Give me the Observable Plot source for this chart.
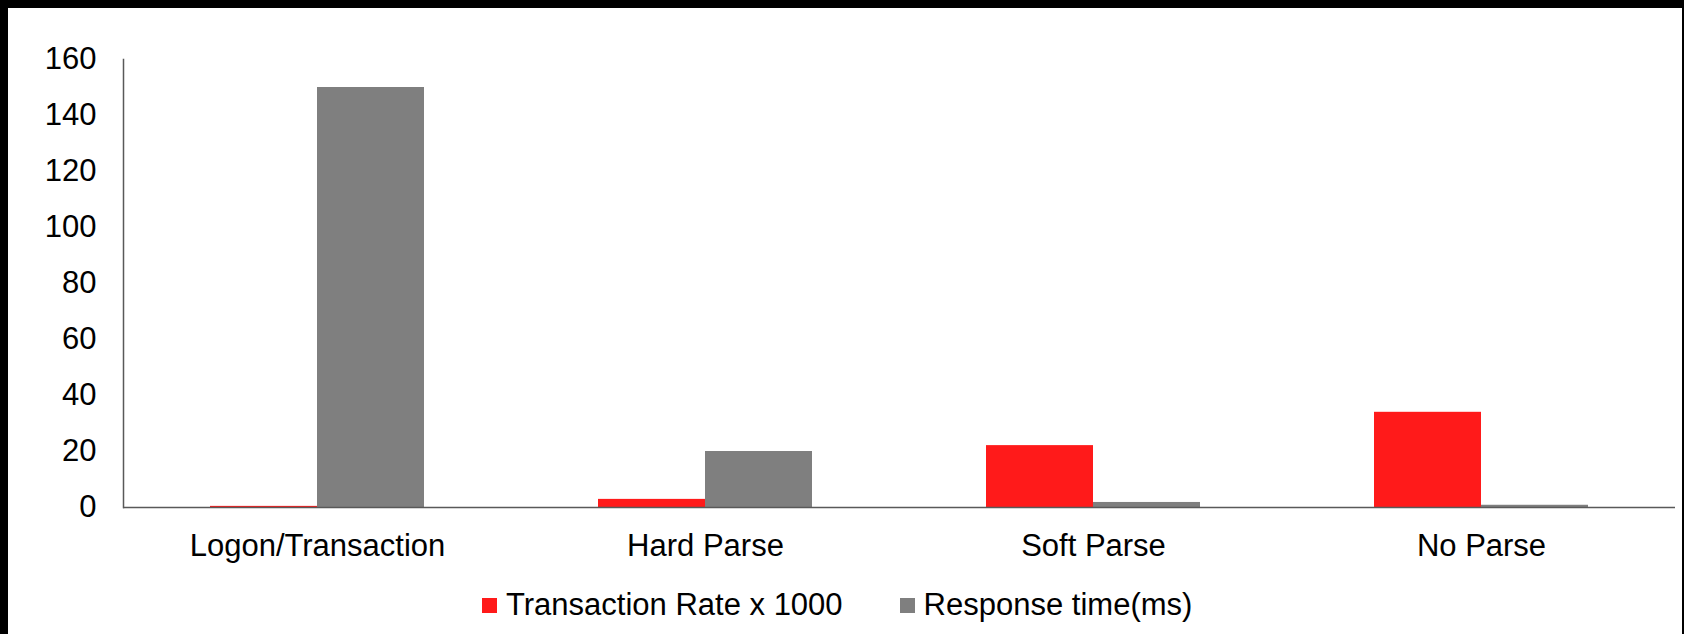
<!DOCTYPE html>
<html>
<head>
<meta charset="utf-8">
<script src="https://cdn.jsdelivr.net/npm/d3@7"></script>
<script src="https://cdn.jsdelivr.net/npm/@observablehq/plot@0.6"></script>
<style>
  html, body { margin: 0; padding: 0; background: #fff; }
  #wrap {
    width: 1684px; height: 634px; box-sizing: border-box;
    border-top: 8px solid #000; border-left: 8px solid #000; border-right: 2px solid #000;
    background: #fff; overflow: hidden;
    font-family: Arial, "Liberation Sans", sans-serif;
  }
  #legend {
    display: flex; align-items: center; margin-top: 19px; padding-left: 474px;
    font-size: 31px; line-height: 36px; color: #000; white-space: nowrap;
  }
  .item { display: flex; align-items: center; }
  .sw { width: 15px; height: 15px; margin-right: 9px; }
  .item + .item { margin-left: 57px; }
</style>
</head>
<body>
<div id="wrap"><div id="chart"></div><div id="legend"></div></div>
<script>
const categories = ["Logon/Transaction", "Hard Parse", "Soft Parse", "No Parse"];
const series = ["Transaction Rate x 1000", "Response time(ms)"];
const transactionRate = [0.4, 2.9, 22.1, 34];
const responseTime = [150, 20, 1.8, 0.8];
const yTicks = [0, 20, 40, 60, 80, 100, 120, 140, 160];
const colors = ["#ff1a1a", "#7f7f7f"];

const rows = [];
categories.forEach((c, i) => {
  rows.push({category: c, series: series[0], value: transactionRate[i]});
  rows.push({category: c, series: series[1], value: responseTime[i]});
});

const axisColor = "#595959";

const chart = Plot.plot({
  width: 1674,
  height: 560,
  marginLeft: 113,
  marginRight: 6,
  marginTop: 51,
  marginBottom: 61,
  style: {fontFamily: "Arial, 'Liberation Sans', sans-serif", fontSize: "31px", color: "#000", background: "#fff", overflow: "visible"},
  fx: {domain: categories, padding: 0, axis: null},
  x: {domain: series, paddingInner: 0, paddingOuter: 0.8, axis: null},
  y: {domain: [0, 160], axis: null},
  color: {domain: series, range: colors},
  marks: [
    Plot.barY(rows, {fx: "category", x: "series", y: "value", fill: "series"}),
    Plot.ruleY([0], {stroke: axisColor, strokeWidth: 1.5}),
    Plot.frame({anchor: "left", facetAnchor: "left", stroke: axisColor, strokeWidth: 1.5}),
    Plot.axisY({ticks: yTicks, tickSize: 0, tickPadding: 27, label: null, tickFormat: d => String(d)}),
    Plot.axisFx({anchor: "bottom", tickSize: 0, tickPadding: 26, label: null})
  ]
});
document.getElementById("chart").appendChild(chart);

const legend = document.getElementById("legend");
series.forEach((s, i) => {
  const item = document.createElement("div");
  item.className = "item";
  const sw = document.createElement("span");
  sw.className = "sw";
  sw.style.background = colors[i];
  const t = document.createElement("span");
  t.textContent = s;
  item.appendChild(sw);
  item.appendChild(t);
  legend.appendChild(item);
});
</script>
</body>
</html>
